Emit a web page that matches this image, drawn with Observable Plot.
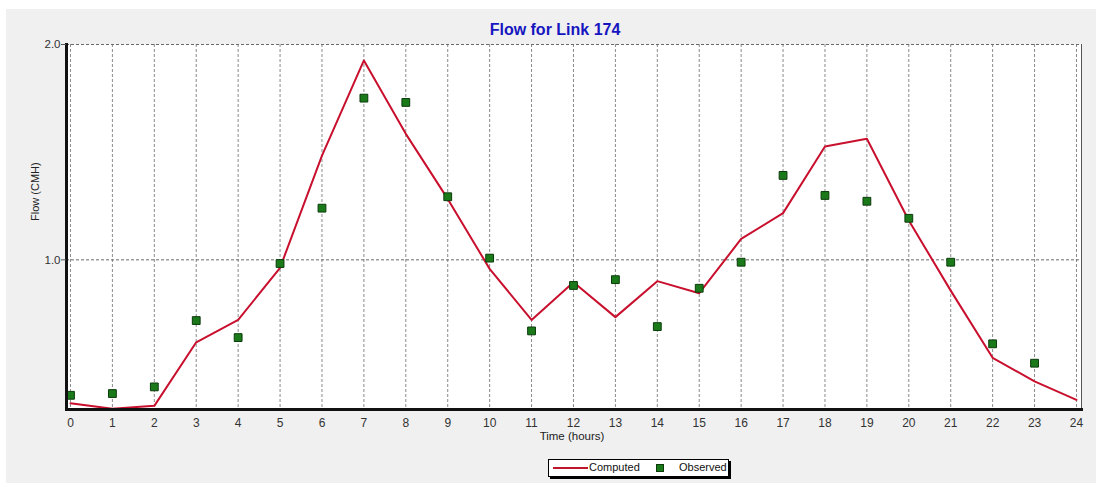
<!DOCTYPE html>
<html>
<head>
<meta charset="utf-8">
<script src="https://cdn.jsdelivr.net/npm/d3@7"></script>
<script src="https://cdn.jsdelivr.net/npm/@observablehq/plot@0.6"></script>
<style>
  html, body { margin: 0; padding: 0; background: #ffffff; }
  #wrap { position: relative; width: 1096px; height: 483px; overflow: hidden; font-family: "Liberation Sans", Arial, sans-serif; }
  #panel { position: absolute; left: 6px; top: 9px; right: 0; bottom: 0; background: #f0f0f0; }
  #chart { position: absolute; left: 0; top: 0; }
  #legend { position: absolute; left: 548px; top: 459px; width: 179px; height: 16px; background: #fff;
            border: 1px solid #000; box-shadow: 2px 2px 0 #000; font-size: 11px; color: #111; }
  #legend .ln { position: absolute; left: 4px; top: 7px; width: 35px; height: 0; border-top: 2px solid #c0142c; }
  #legend .t1 { position: absolute; left: 40px; top: 1px; }
  #legend .sq { position: absolute; left: 107px; top: 4px; width: 6px; height: 6px; background: #1a7a1a; border: 1px solid #0b3b0b; }
  #legend .t2 { position: absolute; left: 130px; top: 1px; }
</style>
</head>
<body>
<div id="wrap">
  <div id="panel"></div>
  <div id="chart"></div>
  <div id="legend"><span class="ln"></span><span class="t1">Computed</span><span class="sq"></span><span class="t2">Observed</span></div>
</div>
<script>
const hours = [0,1,2,3,4,5,6,7,8,9,10,11,12,13,14,15,16,17,18,19,20,21,22,23,24];
const computed = [0.334,0.308,0.322,0.617,0.721,0.963,1.484,1.926,1.585,1.283,0.958,0.721,0.896,0.734,0.901,0.845,1.097,1.217,1.526,1.562,1.183,0.857,0.545,0.436,0.350];
const observedHours = [0,1,2,3,4,5,6,7,8,9,10,11,12,13,14,15,16,17,18,19,20,21,22,23];
const observed = [0.371,0.379,0.410,0.718,0.639,0.983,1.240,1.751,1.731,1.293,1.008,0.670,0.881,0.908,0.690,0.868,0.989,1.392,1.299,1.272,1.193,0.989,0.610,0.520];
const yTicks = [1.0, 2.0];
const titleText = "Flow for Link 174";
const xLabel = "Time (hours)";
const yLabel = "Flow (CMH)";

const compData = hours.map((h, i) => ({h, v: computed[i]}));
const obsData = observedHours.map((h, i) => ({h, v: observed[i]}));

const font = "Liberation Sans, Arial, sans-serif";

const chart = Plot.plot({
  width: 1096,
  height: 483,
  marginLeft: 66,
  marginRight: 15,
  marginTop: 44,
  marginBottom: 74,
  style: {background: "transparent", fontFamily: font, overflow: "visible"},
  x: {domain: [-0.095, 24.12]},
  y: {domain: [0.305, 2.0]},
  marks: [
    Plot.frame({fill: "white", stroke: null}),
    Plot.ruleX(hours, {stroke: "#8a8a8a", strokeDasharray: "3,2", strokeWidth: 1}),
    Plot.ruleY(yTicks, {stroke: "#6a6a6a", strokeDasharray: "3,2", strokeWidth: 1}),
    Plot.frame({anchor: "right", stroke: "#555", strokeWidth: 1}),
    Plot.line(compData, {x: "h", y: "v", stroke: "#c8102e", strokeWidth: 2}),
    Plot.dot(obsData, {x: "h", y: "v", symbol: "square", r: 4.4, fill: "#1a7a1a", stroke: "#0b3b0b", strokeWidth: 1}),
    Plot.frame({anchor: "left", stroke: "#111", strokeWidth: 3}),
    Plot.frame({anchor: "bottom", stroke: "#111", strokeWidth: 3}),
    Plot.axisX({ticks: hours, tickSize: 0, tickPadding: 9, fontSize: 12, fill: "#333", label: null, tickFormat: d => String(d)}),
    Plot.axisY({ticks: yTicks, tickSize: 5, tickPadding: 1, fontSize: 11.5, fill: "#333", stroke: "#555", label: null, tickFormat: d3.format(".1f")}),
    Plot.text([xLabel], {frameAnchor: "bottom", dy: 27, dx: -2, fontSize: 11.5, fill: "#222", lineAnchor: "middle"}),
    Plot.text([yLabel], {frameAnchor: "left", dx: -31, dy: -6, rotate: -90, fontSize: 11, fill: "#222", lineAnchor: "middle"}),
    Plot.text([titleText], {frameAnchor: "top", dy: -15, dx: -19, fontSize: 16, fontWeight: "bold", fill: "#1616c0", lineAnchor: "middle"})
  ]
});
document.getElementById("chart").appendChild(chart);
</script>
</body>
</html>
